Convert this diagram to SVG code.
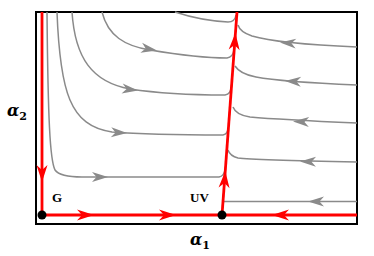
<svg xmlns="http://www.w3.org/2000/svg" width="374" height="256" viewBox="0 0 374 256">
<style>
.g{fill:none;stroke:#8a8a8a;stroke-width:1.5}
.r{fill:none;stroke:#ff0000;stroke-width:2.8}
.lab{font-family:"Liberation Serif",serif;font-weight:bold;font-size:13px;fill:#000}
.ax{font-family:"DejaVu Serif","Liberation Serif",serif;font-weight:bold;font-style:italic;font-size:16px;fill:#000}
.sub{font-family:"DejaVu Serif","Liberation Serif",serif;font-weight:bold;font-size:11px;font-style:normal;fill:#000}
</style>
<defs>
<path id="ga" d="M0,0 L-16,-5 L-11.5,0 L-16,5 Z" fill="#8a8a8a"/>
<path id="ra" d="M0,0 L-17,-5.5 L-12,0 L-17,5.5 Z" fill="#ff0000"/>
</defs>
<rect x="36" y="12" width="321" height="212" fill="#fff" stroke="#000" stroke-width="2"/>
<g id="connectors">
<path class="g" d="M175,12 C190,17 210,21 228,22 Q235,22 236,15"/>
<path class="g" d="M102,12 C108,36 125,46 150,50 C180,55 210,58 227,58 Q233,57 234,50"/>
<path class="g" d="M72,12 C75,58 92,82 130,89 C170,95 210,95 225,95 Q231,94 231,87"/>
<path class="g" d="M57,12 C60,92 70,126 112,132 C150,135 200,135 223,135 Q228,134 228,128"/>
<path class="g" d="M47,12 C48,120 50,160 55,170 Q60,177 82,177 L219,177 Q224,176 225,170"/>
<path class="g" d="M357,47 C310,45 272,42 252,36 Q240,32 238,25"/>
<path class="g" d="M357,85 C310,83 272,80 256,77 Q240,74 235,66"/>
<path class="g" d="M357,123 C310,121 272,119 250,117 Q236,115 233,107"/>
<path class="g" d="M357,162 C300,161 252,160 238,158 Q230,156 228,150"/>
<path class="g" d="M357,201.5 L223,201.5"/>
<use href="#ga" transform="translate(157,50.5) rotate(10)"/>
<use href="#ga" transform="translate(138,90.5) rotate(7)"/>
<use href="#ga" transform="translate(127,133) rotate(3)"/>
<use href="#ga" transform="translate(108,177)"/>
<use href="#ga" transform="translate(280,42.5) rotate(184)"/>
<use href="#ga" transform="translate(285,81) rotate(183)"/>
<use href="#ga" transform="translate(293,121.5) rotate(182)"/>
<use href="#ga" transform="translate(300,161.5) rotate(181)"/>
<use href="#ga" transform="translate(308,201.5) rotate(180)"/>
<path class="r" d="M42,12 L42,215"/>
<path class="r" d="M42,215 L357,215"/>
<path class="r" d="M222,215 L237,12"/>
<use href="#ra" transform="translate(42,182) rotate(90)"/>
<use href="#ra" transform="translate(94,215)"/>
<use href="#ra" transform="translate(176,215)"/>
<use href="#ra" transform="translate(272,215) rotate(180)"/>
<use href="#ra" transform="translate(225.3,171) rotate(-85.8)"/>
<use href="#ra" transform="translate(235.4,33) rotate(-85.8)"/>
</g>
<g id="G">
<circle cx="42" cy="215" r="4.5" fill="#000"/>
<text class="lab" x="52" y="202">G</text>
</g>
<g id="UV">
<circle cx="222" cy="215" r="4.5" fill="#000"/>
<text class="lab" x="190" y="202">UV</text>
</g>
<g id="axes">
<text class="ax" x="7" y="116">α<tspan class="sub" dy="4">2</tspan></text>
<text class="ax" x="190" y="245">α<tspan class="sub" dy="4">1</tspan></text>
</g>
</svg>
